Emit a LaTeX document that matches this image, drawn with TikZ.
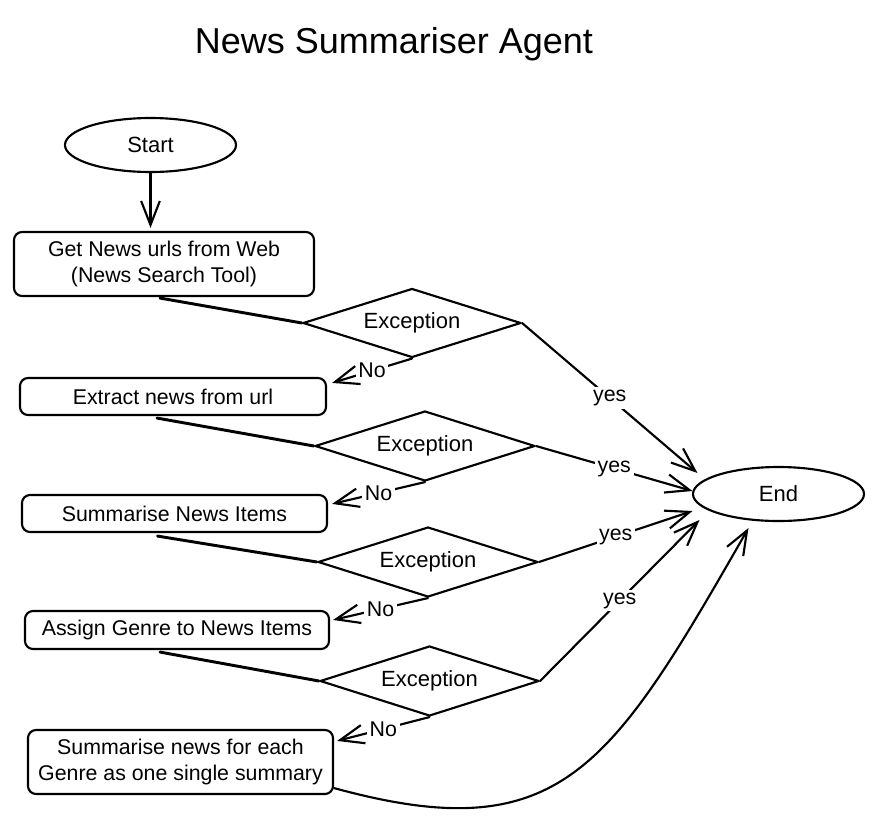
\documentclass[tikz,border=0pt]{standalone}
\usepackage{fontspec}
\setmainfont{Liberation Sans}
\usetikzlibrary{arrows.meta,shapes.geometric,calc}
\begin{document}
\begin{tikzpicture}[x=0.75pt,y=-0.75pt,
  every node/.style={font=\fontsize{16.5}{19}\selectfont},
  ln/.style={line width=1.6pt, line join=round, line cap=round},
  proc/.style={ln, draw, rounded corners=6pt, align=center, inner sep=0pt, font=\fontsize{16}{19}\selectfont},
  term/.style={ln, draw, ellipse, minimum width=128.25pt, minimum height=40.5pt, inner sep=0pt},
  dec/.style={ln, draw, diamond, aspect=3, inner sep=0pt},
  arr/.style={ln, -{Straight Barb[length=18pt,width=14pt]}},
  link/.style={line width=2.2pt, line cap=round},
  lab/.style={fill=white, inner sep=2pt, font=\fontsize{16}{18}\selectfont},
]
\fill[white] (0,0) rectangle (876,826);
\useasboundingbox (0,0) rectangle (876,826);

\node[font=\fontsize{27}{30}\selectfont] (title) at (394,44) {News Summariser Agent};

\node[term] (startn) at (150.5,145) {Start};
\node[term] (endn) at (778.5,494) {End};

\node[proc, minimum width=225pt, minimum height=48pt] (b1) at (164,264) {Get News urls from Web\\(News Search Tool)};
\node[proc, minimum width=229.5pt, minimum height=27.75pt] (b2) at (173,396.5) {Extract news from url};
\node[proc, minimum width=228.75pt, minimum height=27.75pt] (b3) at (174.5,513.5) {Summarise News Items};
\node[proc, minimum width=228pt, minimum height=28.5pt] (b4) at (177,630) {Assign Genre to News Items};
\node[proc, minimum width=228.75pt, minimum height=48pt] (b5) at (180.5,762) {Summarise news for each\\Genre as one single summary};

\node[dec, minimum width=163.5pt, minimum height=51.75pt] (d1) at (412,323) {Exception};
\node[dec, minimum width=165pt, minimum height=52.5pt] (d2) at (425,446) {Exception};
\node[dec, minimum width=165pt, minimum height=52.5pt] (d3) at (428,562) {Exception};
\node[dec, minimum width=164.25pt, minimum height=52.5pt] (d4) at (429.5,681) {Exception};

% start arrow
\draw[arr] (startn.south) -- ($(startn.south |- b1.north)+(0,-3)$);

% box to decision links
\draw[link] ($(b1.south)+(-4,1)$) -- (d1.west);
\draw[link] ($(b2.south)+(-16,2)$) -- (d2.west);
\draw[link] ($(b3.south)+(-17,3)$) -- (d3.west);
\draw[link] ($(b4.south)+(-17,2)$) -- (d4.west);

% No arrows
\draw[arr] (d1.south) -- node[lab]{No} ($(b2.north east)+(5,6)$);
\draw[arr] (d2.south) -- node[lab]{No} ($(b3.north east)+(4,10)$);
\draw[arr] (d3.south) -- node[lab]{No} ($(b4.north east)+(3,10)$);
\draw[arr] (d4.south) -- node[lab]{No} ($(b5.north east)+(3,12)$);

% yes arrows
\draw[arr] (d1.east) -- node[lab]{yes} ($(endn.center)+(-81,-21)$);
\draw[arr] (d2.east) -- node[lab]{yes} ($(endn.center)+(-86,-3)$);
\draw[arr] (d3.east) -- node[lab]{yes} ($(endn.center)+(-86,17)$);
\draw[arr] (d4.east) -- node[lab]{yes} ($(endn.center)+(-79,26)$);

% final summary to end
\draw[arr] ($(b5.south east)+(0,-7)$) .. controls (560,850) and (610,770) .. ($(endn.center)+(-30,34)$);
\end{tikzpicture}
\end{document}
